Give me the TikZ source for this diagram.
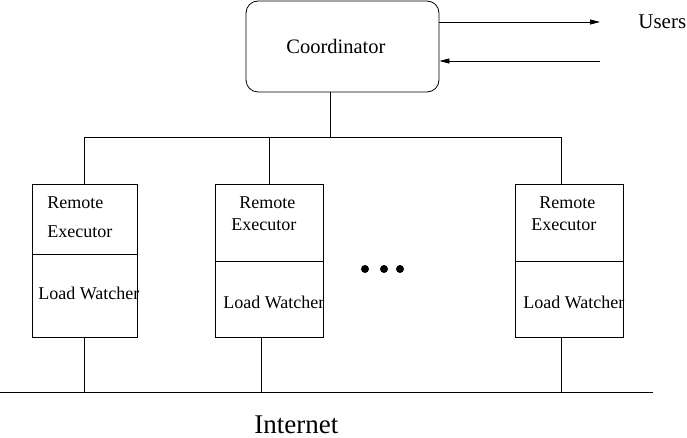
\documentclass[tikz,border=0pt]{standalone}
\usepackage{fontspec}
\setmainfont{Liberation Serif}
\usetikzlibrary{arrows.meta}
\begin{document}
\begin{tikzpicture}[x=1pt,y=-1pt, line width=0.8pt,
  box/.style={draw, rectangle, inner sep=0pt},
  txt/.style={inner sep=0pt, anchor=base west, font=\fontsize{18}{20}\selectfont},
  bigtxt/.style={inner sep=0pt, anchor=base west, font=\fontsize{20.5}{24}\selectfont},
  tip/.style={-{Triangle[length=10pt,width=5pt]}},
  dot/.style={circle, fill, minimum size=8pt, inner sep=0pt}]
\useasboundingbox (0,0) rectangle (687,438);
% coordinator
\node[draw, rounded corners=12pt, minimum width=193pt, minimum height=91pt, inner sep=0pt] (coord) at (342.5,46.5) {};
\node[bigtxt] (coordtxt) at (286,54) {Coordinator};
% users
\coordinate (u1) at (600,22);
\coordinate (u2) at (600,61);
\draw[tip] (coord.east |- u1) -- (u1);
\draw[tip] (u2) -- (coord.east |- u2);
\node[bigtxt, font=\fontsize{21}{24}\selectfont] (users) at (638,29) {Users};
% boxes
\node[box, minimum width=105pt, minimum height=70pt] (re1) at (84.5,219) {};
\node[box, minimum width=105pt, minimum height=83pt] (lw1) at (84.5,295.5) {};
\node[box, minimum width=108pt, minimum height=77pt] (re2) at (269,222.5) {};
\node[box, minimum width=108pt, minimum height=76pt] (lw2) at (269,299) {};
\node[box, minimum width=108pt, minimum height=77pt] (re3) at (569,222.5) {};
\node[box, minimum width=108pt, minimum height=76pt] (lw3) at (569,299) {};
% box texts
\node[txt] (r1a) at (47,208) {Remote};
\node[txt] (r1b) at (47,237) {Executor};
\node[txt] (l1) at (38,299) {Load Watcher};
\node[txt] (r2a) at (239,208) {Remote};
\node[txt] (r2b) at (231,230) {Executor};
\node[txt] (l2) at (223,308) {Load Watcher};
\node[txt] (r3a) at (539,208) {Remote};
\node[txt] (r3b) at (531,230) {Executor};
\node[txt] (l3) at (523,308) {Load Watcher};
% dots
\node[dot] (dt1) at (365,269) {};
\node[dot] (dt2) at (384,269) {};
\node[dot] (dt3) at (400,269) {};
% upper bus
\coordinate (b0) at (330,137);
\coordinate (b1) at (84,137);
\coordinate (b2) at (269,137);
\coordinate (b3) at (561,137);
\draw (coord.south -| b0) -- (b0);
\draw (b1) -- (b3);
\draw (b1) -- (b1 |- re1.north);
\draw (b2) -- (b2 |- re2.north);
\draw (b3) -- (b3 |- re3.north);
% internet
\coordinate (n0) at (0,392);
\coordinate (n4) at (653,392);
\coordinate (d1) at (84,392);
\coordinate (d2) at (261,392);
\coordinate (d3) at (561,392);
\draw (n0) -- (n4);
\draw (d1 |- lw1.south) -- (d1);
\draw (d2 |- lw2.south) -- (d2);
\draw (d3 |- lw3.south) -- (d3);
\node[txt, font=\fontsize{27}{30}\selectfont] (inet) at (254,433) {Internet};
\end{tikzpicture}
\end{document}
